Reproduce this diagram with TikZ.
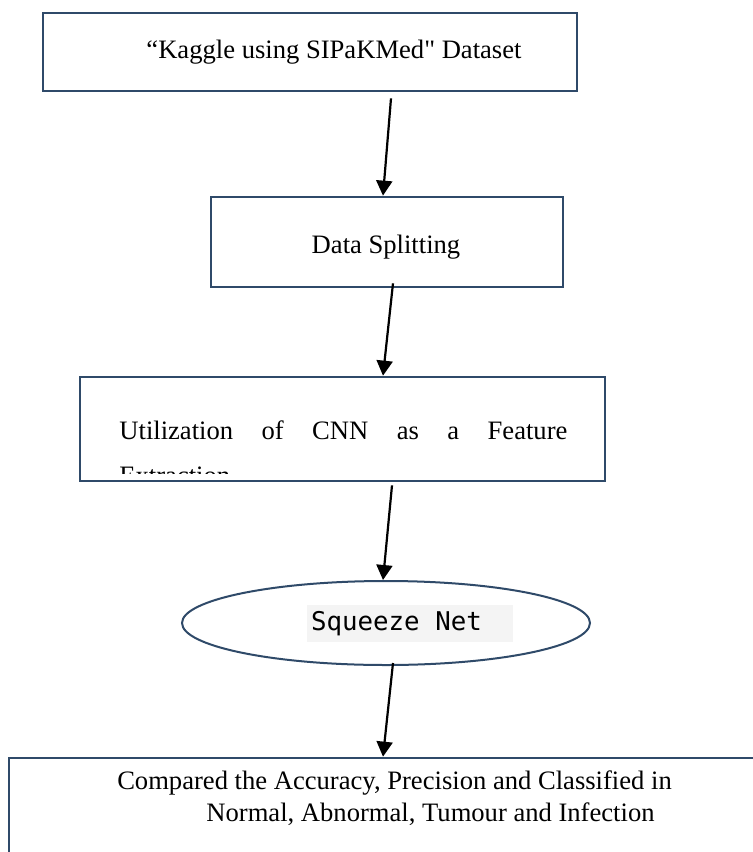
\documentclass[tikz,border=0pt]{standalone}
\usepackage{fontspec}
\setmainfont{Liberation Serif}[Ligatures=TeXOff]
\newfontfamily\codefont{DejaVu Sans Mono}
\usetikzlibrary{arrows.meta,shapes.geometric}

\definecolor{boxline}{HTML}{2F4A69}
\definecolor{codebg}{HTML}{F4F4F4}

\begin{document}
\begin{tikzpicture}[x=0.5pt, y=-0.5pt,
  every node/.style={font=\fontsize{13.3}{22.5}\selectfont},
  box/.style={draw=boxline, line width=1.35pt, rectangle, inner sep=0pt},
  flow/.style={-{Triangle[length=7.5pt,width=8pt]}, line width=1.1pt, black}]
\useasboundingbox (0,0) rectangle (753,852);

\node[box, minimum width=267pt, minimum height=39pt] (dataset) at (310,52) {};
\node (datasettxt) at (334,52) {“Kaggle using SIPaKMed" Dataset};

\node[box, minimum width=176pt, minimum height=45pt] (split) at (387,242) {};
\node (splittxt) at (386,247) {Data Splitting};

% second line of the text runs out of the box
\begin{scope}
\clip (80,377) rectangle (605,473);
\node[text width=224pt, align=left, anchor=north west, inner sep=0pt] (cnntxt) at (119,420)
  {\hbox to 224pt{Utilization\hfill of\hfill CNN\hfill as\hfill a\hfill Feature}\\Extraction};
\end{scope}
\node[box, minimum width=262.5pt, minimum height=52pt] (cnn) at (342.5,429) {};

\node[ellipse, draw=boxline, line width=1pt, minimum width=204pt, minimum height=42pt, inner sep=0pt] (squeeze) at (386,623) {};
\node[fill=codebg, minimum width=103pt, minimum height=18.5pt, inner xsep=2pt, text width=99pt, align=left,
  font=\codefont\fontsize{12.9}{15}\selectfont] (squeezetxt) at (410,623.5) {Squeeze\kern0.602em Net};

\node[box, minimum width=395.5pt, minimum height=71pt] (result) at (404.5,829) {};
\node (resulttxt) at (394.5,783) {Compared the Accuracy, Precision and Classified in};
\node (resulttxtb) at (430.5,814) {Normal, Abnormal, Tumour and Infection};

\draw[flow] ([shift={(81,6)}]dataset.south) -- ([shift={(-4,0)}]split.north);
\draw[flow] ([shift={(6,-5)}]split.south) -- ([shift={(40.5,0)}]cnn.north);
\draw[flow] ([shift={(49.5,3)}]cnn.south) -- ([shift={(-3,0)}]squeeze.north);
\draw[flow] ([shift={(7,-3)}]squeeze.south) -- ([shift={(-21.5,0)}]result.north);

\end{tikzpicture}
\end{document}
